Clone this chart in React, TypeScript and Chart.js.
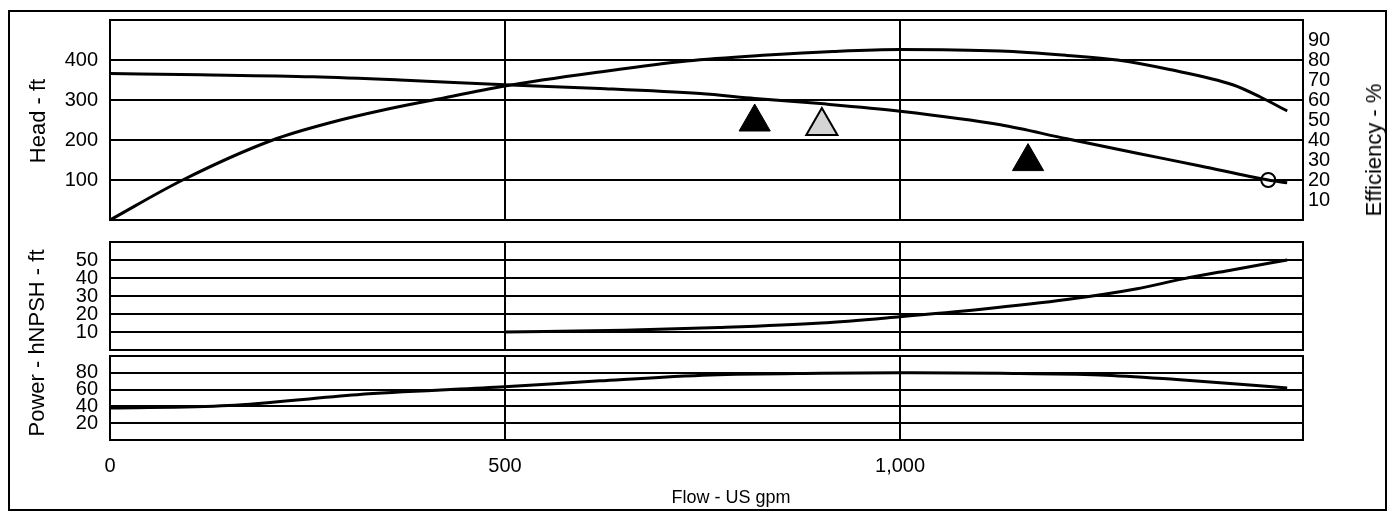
import React, { useEffect, useRef } from "react";
import { Chart, registerables } from "chart.js";

Chart.register(...registerables);

// ---------- data ----------
const headFlow = [0, 114, 257, 367, 500, 620, 747, 816, 899, 1000, 1127, 1211, 1300, 1380, 1466, 1490];
const headValues = [366, 363, 358, 350, 338, 329, 316, 304, 291, 272, 238, 203, 167, 135, 100, 93];

const effFlow = [0, 92, 206, 282, 346, 409, 500, 620, 730, 832, 915, 1000, 1127, 1211, 1275, 1338, 1422, 1456, 1490];
const effValues = [0, 20, 40, 49, 55, 60, 67, 74, 79.5, 82.5, 84.3, 85.3, 84.5, 82.3, 80, 75.5, 67.5, 61.5, 54.5];

const npshFlow = [500, 650, 771, 900, 1000, 1100, 1211, 1300, 1358, 1420, 1490];
const npshValues = [10, 11, 12.5, 15, 18.5, 22.5, 28, 34, 39.5, 44.5, 50];

const powerFlow = [0, 150, 313, 494, 620, 760, 900, 1000, 1127, 1253, 1350, 1422, 1490];
const powerValues = [38, 41, 54, 63, 70.5, 77.5, 79.5, 80, 79.5, 77.5, 72, 67, 62];

const blackTriangles = [
  { x: 816, y: 245 },
  { x: 1162, y: 146 },
];
const greyTriangles = [{ x: 901, y: 235 }];
const endPoint = [{ x: 1466, y: 100 }];

const xTicks = [0, 500, 1000];
const headTicks = [100, 200, 300, 400];
const effTicks = [10, 20, 30, 40, 50, 60, 70, 80, 90];
const npshTicks = [10, 20, 30, 40, 50];
const powerTicks = [20, 40, 60, 80];

// ---------- helpers ----------
const FONT = "'Liberation Sans', Arial, Helvetica, sans-serif";
const pts = (xs: number[], ys: number[]) => xs.map((x, i) => ({ x, y: ys[i] }));

const setTicks = (vals: number[]) => (s: any) => {
  s.ticks = vals.map((v) => ({ value: v }));
};
const fixY = (w: number) => (s: any) => {
  s.width = w;
  s.paddingTop = 0;
  s.paddingBottom = 0;
};
const fixX = (h: number) => (s: any) => {
  s.height = h;
  s.paddingLeft = 0;
  s.paddingRight = 0;
};

const framePlugin = {
  id: "frameBox",
  afterDatasetsDraw(chart: any) {
    const { ctx, chartArea: a } = chart;
    ctx.save();
    ctx.strokeStyle = "#000";
    ctx.lineWidth = 2;
    ctx.strokeRect(a.left, a.top, a.right - a.left, a.bottom - a.top);
    ctx.restore();
  },
};

const gridOpts = { color: "#000", lineWidth: 2, drawTicks: false };
const tickFont = { family: FONT, size: 20 };
const yTickOpts = (padding: number) => ({
  color: "#000",
  font: tickFont,
  padding,
  autoSkip: false,
});

const lineDs = (data: any[], yAxisID: string) => ({
  data,
  yAxisID,
  showLine: true,
  borderColor: "#000",
  backgroundColor: "#000",
  borderWidth: 3,
  pointRadius: 0,
  fill: false,
  cubicInterpolationMode: "monotone" as const,
});

const xScale = (showLabels: boolean) => ({
  type: "linear" as const,
  min: 0,
  max: 1510,
  afterBuildTicks: setTicks(xTicks),
  ticks: showLabels
    ? {
        color: "#000",
        font: tickFont,
        padding: 14,
        maxRotation: 0,
        autoSkip: false,
        callback: (v: any) => Number(v).toLocaleString("en-US"),
      }
    : { display: false, autoSkip: false },
  grid: gridOpts,
  border: { display: false },
  afterFit: fixX(showLabels ? 60 : 0),
});

const baseOptions = (padding: any) => ({
  responsive: false,
  animation: false as const,
  events: [] as any[],
  layout: { padding },
  plugins: { legend: { display: false }, tooltip: { enabled: false } },
});

export default function App() {
  const mainRef = useRef<HTMLCanvasElement>(null);
  const npshRef = useRef<HTMLCanvasElement>(null);
  const powerRef = useRef<HTMLCanvasElement>(null);

  useEffect(() => {
    const charts: Chart[] = [];

    charts.push(
      new Chart(mainRef.current as HTMLCanvasElement, {
        type: "scatter",
        data: {
          datasets: [
            lineDs(pts(headFlow, headValues), "yHead"),
            lineDs(pts(effFlow, effValues), "yEff"),
            {
              data: blackTriangles,
              yAxisID: "yHead",
              showLine: false,
              pointStyle: "triangle",
              pointRadius: 18,
              backgroundColor: "#000",
              borderColor: "#000",
              borderWidth: 1,
            },
            {
              data: greyTriangles,
              yAxisID: "yHead",
              showLine: false,
              pointStyle: "triangle",
              pointRadius: 18,
              backgroundColor: "#d4d4d4",
              borderColor: "#000",
              borderWidth: 2,
            },
            {
              data: endPoint,
              yAxisID: "yHead",
              showLine: false,
              pointStyle: "circle",
              pointRadius: 7,
              backgroundColor: "#fff",
              borderColor: "#000",
              borderWidth: 2,
            },
          ] as any,
        },
        options: {
          ...baseOptions({ top: 12, bottom: 6, left: 0, right: 0 }),
          scales: {
            x: xScale(false),
            yHead: {
              type: "linear",
              position: "left",
              min: 0,
              max: 500,
              afterBuildTicks: setTicks(headTicks),
              ticks: yTickOpts(12),
              grid: gridOpts,
              border: { display: false },
              afterFit: fixY(110),
            },
            yEff: {
              type: "linear",
              position: "right",
              min: 0,
              max: 100,
              afterBuildTicks: setTicks(effTicks),
              ticks: yTickOpts(5),
              grid: { display: false, drawTicks: false },
              border: { display: false },
              afterFit: fixY(86),
            },
          },
        } as any,
        plugins: [framePlugin],
      })
    );

    charts.push(
      new Chart(npshRef.current as HTMLCanvasElement, {
        type: "scatter",
        data: { datasets: [lineDs(pts(npshFlow, npshValues), "y")] as any },
        options: {
          ...baseOptions({ top: 6, bottom: 6, left: 0, right: 86 }),
          scales: {
            x: xScale(false),
            y: {
              type: "linear",
              position: "left",
              min: 0,
              max: 60,
              afterBuildTicks: setTicks(npshTicks),
              ticks: yTickOpts(12),
              grid: gridOpts,
              border: { display: false },
              afterFit: fixY(110),
            },
          },
        } as any,
        plugins: [framePlugin],
      })
    );

    charts.push(
      new Chart(powerRef.current as HTMLCanvasElement, {
        type: "scatter",
        data: { datasets: [lineDs(pts(powerFlow, powerValues), "y")] as any },
        options: {
          ...baseOptions({ top: 6, bottom: 0, left: 0, right: 86 }),
          scales: {
            x: xScale(true),
            y: {
              type: "linear",
              position: "left",
              min: 0,
              max: 100,
              afterBuildTicks: setTicks(powerTicks),
              ticks: yTickOpts(12),
              grid: gridOpts,
              border: { display: false },
              afterFit: fixY(110),
            },
          },
        } as any,
        plugins: [framePlugin],
      })
    );

    return () => charts.forEach((c) => c.destroy());
  }, []);

  const rotated = (text: string, cx: number, cy: number, size: number) => (
    <div
      style={{
        position: "absolute",
        left: cx,
        top: cy,
        transform: "translate(-50%, -50%) rotate(-90deg)",
        whiteSpace: "nowrap",
        fontFamily: FONT,
        fontSize: size,
        lineHeight: 1,
        color: "#000",
      }}
    >
      {text}
    </div>
  );

  return (
    <div
      style={{
        position: "fixed",
        left: 0,
        top: 0,
        width: 1389,
        height: 522,
        background: "#fff",
        overflow: "hidden",
      }}
    >
      <div
        style={{
          position: "absolute",
          left: 8,
          top: 10,
          width: 1379,
          height: 501,
          boxSizing: "border-box",
          border: "2px solid #000",
        }}
      />
      <canvas ref={mainRef} width={1389} height={240} style={{ position: "absolute", left: 0, top: 0 }} />
      <canvas ref={npshRef} width={1389} height={120} style={{ position: "absolute", left: 0, top: 236 }} />
      <canvas ref={powerRef} width={1389} height={150} style={{ position: "absolute", left: 0, top: 350 }} />
      {rotated("Head - ft", 38, 121, 22)}
      {rotated("Power - hNPSH - ft", 37, 343, 22)}
      {rotated("Efficiency - %", 1374, 150, 22)}
      <div
        style={{
          position: "absolute",
          left: 731,
          top: 497,
          transform: "translate(-50%, -50%)",
          whiteSpace: "nowrap",
          fontFamily: FONT,
          fontSize: 18,
          lineHeight: 1,
          color: "#000",
        }}
      >
        Flow - US gpm
      </div>
    </div>
  );
}
